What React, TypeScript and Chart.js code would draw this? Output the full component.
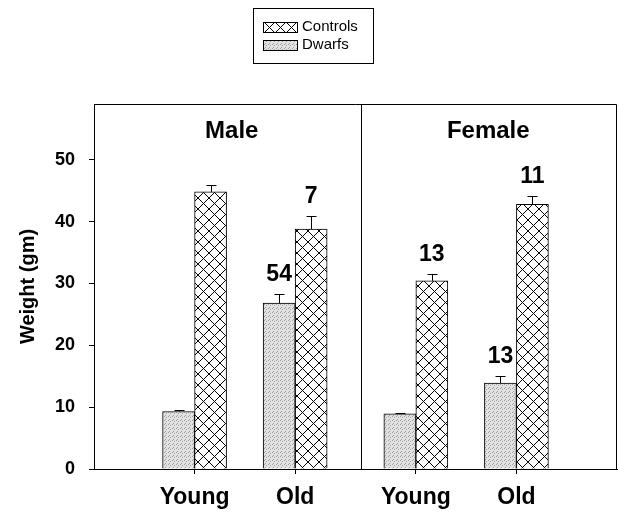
import React, { useEffect, useRef } from "react";
import { Chart, registerables } from "chart.js";

Chart.register(...registerables);

// ---- data ----
const groupLabels = ["Young", "Old", "Young", "Old"];
const groupPositions = [1, 2, 3.2, 4.2];
const dwarfsValues = [9.3, 26.8, 8.9, 13.9];
const dwarfsErrors = [0.2, 1.5, 0.1, 1.1];
const controlsValues = [44.8, 38.8, 30.4, 42.8];
const controlsErrors = [1.1, 2.1, 1.1, 1.3];
const dwarfsCounts = ["", "54", "", "13"];
const controlsCounts = ["", "7", "13", "11"];
const panelNames = ["Male", "Female"];
const panelTitleX = [1.37, 3.92];
const panelTitleY = 54.5;
const panelDivider = 2.65;
const xMin = 0;
const xMax = 5.2;
const yMin = 0;
const yMax = 59;
const yTicks = [0, 10, 20, 30, 40, 50];
const seriesNames = ["Dwarfs", "Controls"];
const legendOrder = [1, 0];

const FONT = '"Liberation Sans", Arial, sans-serif';

function makeCrossHatch(): CanvasPattern | string {
  const c = document.createElement("canvas");
  const s = 11;
  c.width = s;
  c.height = s;
  const g = c.getContext("2d");
  if (!g) return "#fff";
  g.fillStyle = "#fff";
  g.fillRect(0, 0, s, s);
  g.strokeStyle = "#000";
  g.lineWidth = 1;
  g.beginPath();
  g.moveTo(-1, -1);
  g.lineTo(s + 1, s + 1);
  g.moveTo(-1, s + 1);
  g.lineTo(s + 1, -1);
  g.stroke();
  return g.createPattern(c, "repeat") || "#fff";
}

function makeStipple(): CanvasPattern | string {
  const c = document.createElement("canvas");
  c.width = 4;
  c.height = 4;
  const g = c.getContext("2d");
  if (!g) return "#ccc";
  g.fillStyle = "#e2e2e2";
  g.fillRect(0, 0, 4, 4);
  g.fillStyle = "#a0a0a0";
  [[0, 0], [2, 1], [1, 3]].forEach(([x, y]) => g.fillRect(x, y, 1, 1));
  return g.createPattern(c, "repeat") || "#ccc";
}

const decorPlugin = {
  id: "decor",
  afterDatasetsDraw(chart: any) {
    const ctx = chart.ctx as CanvasRenderingContext2D;
    const xs = chart.scales.x;
    const ys = chart.scales.y;
    const area = chart.chartArea;
    const errs = [dwarfsErrors, controlsErrors];
    const counts = [dwarfsCounts, controlsCounts];
    ctx.save();
    ctx.strokeStyle = "#000";
    ctx.fillStyle = "#000";
    ctx.lineWidth = 1;

    // error bars and n labels
    chart.data.datasets.forEach((ds: any, di: number) => {
      const meta = chart.getDatasetMeta(di);
      meta.data.forEach((bar: any, i: number) => {
        const v = ds.data[i].y;
        const capY = Math.round(ys.getPixelForValue(v + errs[di][i])) + 0.5;
        const bx = Math.round(bar.x) + 0.5;
        ctx.beginPath();
        ctx.moveTo(bx, bar.y);
        ctx.lineTo(bx, capY);
        ctx.moveTo(bx - 5, capY);
        ctx.lineTo(bx + 5, capY);
        ctx.stroke();
        const c = counts[di][i];
        if (c) {
          ctx.font = `bold 23px ${FONT}`;
          ctx.textAlign = "center";
          ctx.textBaseline = "alphabetic";
          ctx.fillText(c, bar.x, capY - 14);
        }
      });
    });

    // frame
    ctx.beginPath();
    ctx.moveTo(area.left, area.top + 0.5);
    ctx.lineTo(area.right - 0.5, area.top + 0.5);
    ctx.lineTo(area.right - 0.5, area.bottom);
    ctx.stroke();

    // panel divider
    const dx = Math.round(xs.getPixelForValue(panelDivider)) + 0.5;
    ctx.beginPath();
    ctx.moveTo(dx, area.top);
    ctx.lineTo(dx, area.bottom);
    ctx.stroke();

    // panel titles
    ctx.font = `bold 24px ${FONT}`;
    ctx.textAlign = "center";
    ctx.textBaseline = "middle";
    panelNames.forEach((name, i) => {
      ctx.fillText(name, xs.getPixelForValue(panelTitleX[i]), ys.getPixelForValue(panelTitleY));
    });

    // legend box
    const bx0 = 253.5, by0 = 8.5, bw = 120, bh = 55;
    ctx.strokeRect(bx0, by0, bw, bh);
    ctx.font = `15px ${FONT}`;
    ctx.textAlign = "left";
    ctx.textBaseline = "middle";
    legendOrder.forEach((di, row) => {
      const ds = chart.data.datasets[di];
      const cy = 27 + row * 18;
      ctx.fillStyle = ds.backgroundColor;
      ctx.fillRect(263, cy - 5, 34, 10);
      ctx.strokeRect(263.5, cy - 4.5, 34, 10);
      ctx.fillStyle = "#000";
      ctx.fillText(ds.label, 302, cy);
    });
    ctx.restore();
  },
};

export default function App() {
  const ref = useRef<HTMLCanvasElement | null>(null);
  useEffect(() => {
    if (!ref.current) return;
    const stipple = makeStipple();
    const hatch = makeCrossHatch();
    const chart = new Chart(ref.current, {
      type: "bar",
      data: {
        datasets: [
          {
            label: seriesNames[0],
            data: dwarfsValues.map((y, i) => ({ x: groupPositions[i], y })),
            backgroundColor: stipple as any,
            borderColor: "#000",
            borderWidth: 1,
            barThickness: 32,
          },
          {
            label: seriesNames[1],
            data: controlsValues.map((y, i) => ({ x: groupPositions[i], y })),
            backgroundColor: hatch as any,
            borderColor: "#000",
            borderWidth: 1,
            barThickness: 32,
          },
        ],
      },
      options: {
        responsive: false,
        animation: false,
        layout: { padding: { top: 104, right: 2, left: 0, bottom: 0 } },
        plugins: { legend: { display: false }, tooltip: { enabled: false }, title: { display: false } },
        scales: {
          x: {
            type: "linear",
            min: xMin,
            max: xMax,
            offset: false,
            afterFit: (s: any) => {
              s.height = 44;
            },
            afterBuildTicks: (s: any) => {
              s.ticks = groupPositions.map((v) => ({ value: v }));
            },
            ticks: {
              autoSkip: false,
              maxRotation: 0,
              padding: 10,
              color: "#000",
              font: { family: FONT, size: 23, weight: "bold" },
              callback: (_v: any, i: number) => groupLabels[i],
            },
            grid: { display: true, drawOnChartArea: false, drawTicks: true, tickLength: 5, color: "#000", offset: false },
            border: { display: true, color: "#000" },
          },
          y: {
            min: yMin,
            max: yMax,
            afterFit: (s: any) => {
              s.width = 94;
            },
            afterBuildTicks: (s: any) => {
              s.ticks = yTicks.map((v) => ({ value: v }));
            },
            ticks: {
              padding: 14,
              color: "#000",
              font: { family: FONT, size: 18, weight: "bold" },
            },
            grid: { display: true, drawOnChartArea: false, drawTicks: true, tickLength: 5, color: "#000" },
            border: { display: true, color: "#000" },
            title: {
              display: true,
              text: "Weight (gm)",
              color: "#000",
              font: { family: FONT, size: 20, weight: "bold" },
              padding: { top: 16, bottom: 0 },
            },
          },
        },
      },
      plugins: [decorPlugin],
    } as any);
    return () => chart.destroy();
  }, []);
  return (
    <div style={{ position: "fixed", left: 0, top: 0, width: 619, height: 513, background: "#fff" }}>
      <canvas ref={ref} width={619} height={513} />
    </div>
  );
}
